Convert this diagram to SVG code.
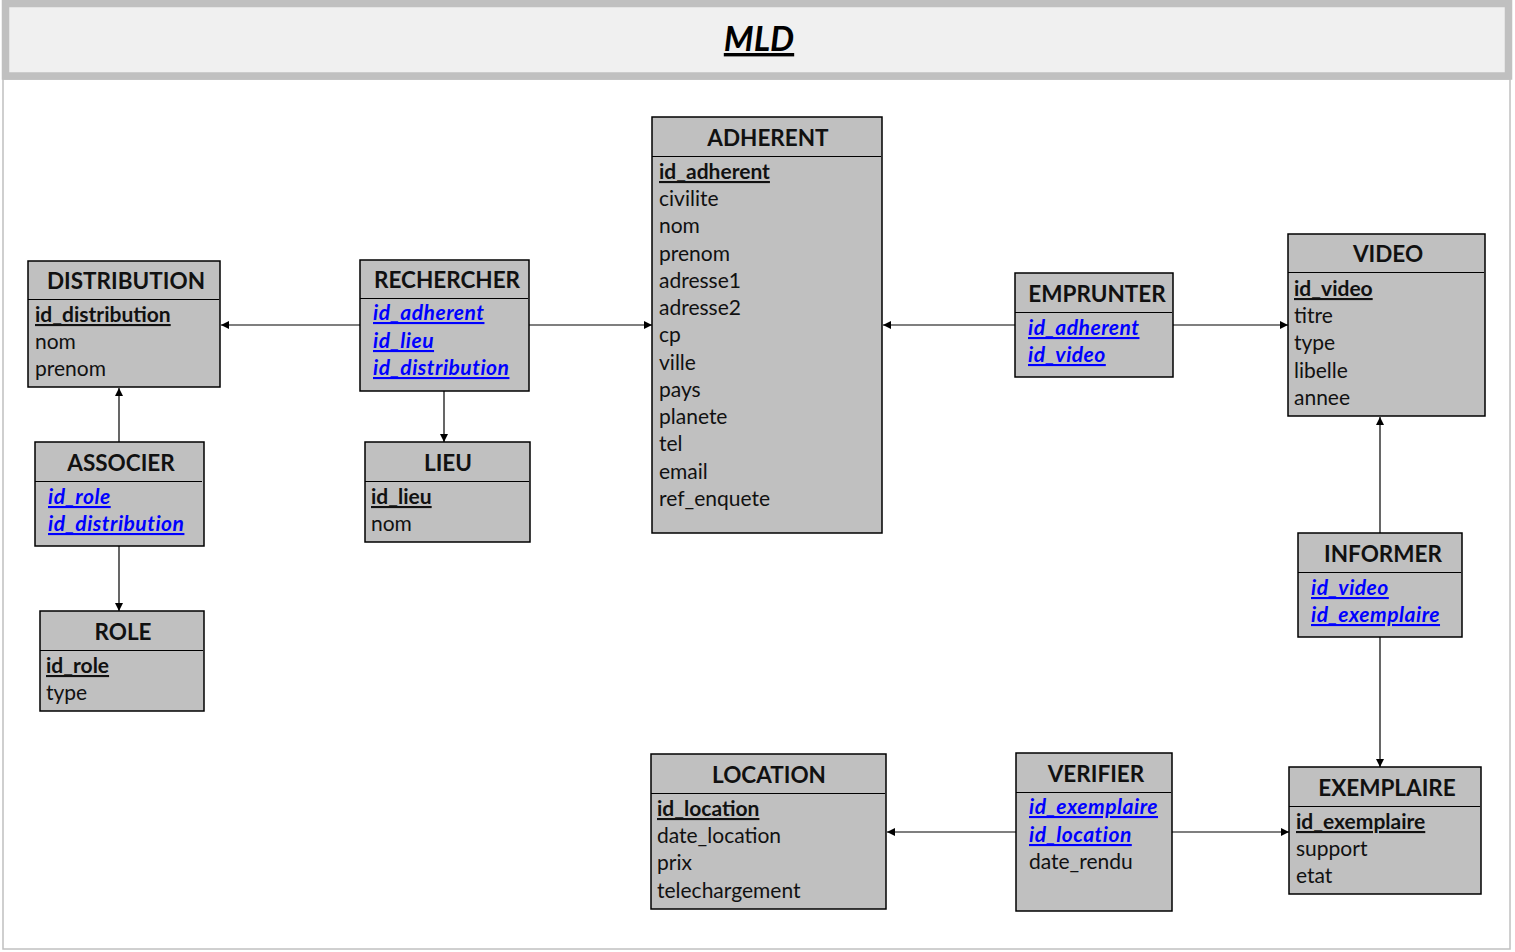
<svg xmlns="http://www.w3.org/2000/svg" width="1515" height="952" viewBox="0 0 1515 952">
<style>
.box{fill:#c0c0c0;stroke:#000;stroke-width:1.5}
.sep{stroke:#000;stroke-width:1}
.hd{font-family:Lato,"Liberation Sans",sans-serif;font-weight:bold;font-size:22.5px;fill:#111;text-anchor:middle}
.at{font-family:Lato,"Liberation Sans",sans-serif;font-size:21px;fill:#111}
.pk{font-family:Lato,"Liberation Sans",sans-serif;font-size:21px;font-weight:bold;fill:#111;text-decoration:underline}
.fk{font-family:Lato,"Liberation Sans",sans-serif;font-size:21px;font-weight:bold;font-style:italic;fill:#0000ff;text-decoration:underline;letter-spacing:0.5px}
.cn{stroke:#000;stroke-width:1.2;fill:none;marker-end:url(#ah)}
</style>
<defs>
<marker id="ah" viewBox="0 0 10 10" refX="10" refY="5" markerWidth="8" markerHeight="8" markerUnits="userSpaceOnUse" orient="auto">
<path d="M0,0 L10,5 L0,10 z" fill="#000"/>
</marker>
</defs>
<rect x="0" y="0" width="1515" height="952" fill="#fff"/>
<rect x="3" y="79" width="1507" height="870" fill="#fff" stroke="#c0c0c0" stroke-width="1.5"/>
<g id="title">
<rect x="5.5" y="3.5" width="1503" height="72.5" fill="#f0f0f0" stroke="#c0c0c0" stroke-width="7.5"/>
<text x="759" y="51" font-family="Lato,'Liberation Sans',sans-serif" font-size="34" font-weight="bold" font-style="italic" text-anchor="middle" fill="#000" text-decoration="underline">MLD</text>
</g>
<g id="connectors">
<line class="cn" x1="360" y1="325" x2="221" y2="325"/>
<line class="cn" x1="529" y1="325" x2="652" y2="325"/>
<line class="cn" x1="444" y1="391" x2="444" y2="442"/>
<line class="cn" x1="119" y1="442" x2="119" y2="388"/>
<line class="cn" x1="119" y1="546" x2="119" y2="611"/>
<line class="cn" x1="1015" y1="325" x2="883" y2="325"/>
<line class="cn" x1="1173" y1="325" x2="1288" y2="325"/>
<line class="cn" x1="1380" y1="533" x2="1380" y2="417"/>
<line class="cn" x1="1380" y1="637" x2="1380" y2="767"/>
<line class="cn" x1="1016" y1="832" x2="887" y2="832"/>
<line class="cn" x1="1172" y1="832" x2="1289" y2="832"/>
</g>
<g id="distribution">
<rect class="box" x="28" y="261" width="192" height="126"/>
<line class="sep" x1="28" y1="299.5" x2="219" y2="299.5"/>
<text class="hd" x="126" y="289">DISTRIBUTION</text>
<text class="pk" x="35" y="322">id_distribution</text>
<text class="at" x="35" y="349">nom</text>
<text class="at" x="35" y="376">prenom</text>
</g>
<g id="rechercher">
<rect class="box" x="360" y="260" width="169" height="131"/>
<line class="sep" x1="360" y1="298.5" x2="528" y2="298.5"/>
<text class="hd" x="447" y="288">RECHERCHER</text>
<text class="fk" x="373" y="320">id_adherent</text>
<text class="fk" x="373" y="348">id_lieu</text>
<text class="fk" x="373" y="375">id_distribution</text>
</g>
<g id="adherent">
<rect class="box" x="652" y="117" width="230" height="416"/>
<line class="sep" x1="652" y1="156.5" x2="881" y2="156.5"/>
<text class="hd" x="768" y="146">ADHERENT</text>
<text class="pk" x="659" y="179">id_adherent</text>
<text class="at" x="659" y="206">civilite</text>
<text class="at" x="659" y="233">nom</text>
<text class="at" x="659" y="261">prenom</text>
<text class="at" x="659" y="288">adresse1</text>
<text class="at" x="659" y="315">adresse2</text>
<text class="at" x="659" y="342">cp</text>
<text class="at" x="659" y="370">ville</text>
<text class="at" x="659" y="397">pays</text>
<text class="at" x="659" y="424">planete</text>
<text class="at" x="659" y="451">tel</text>
<text class="at" x="659" y="479">email</text>
<text class="at" x="659" y="506">ref_enquete</text>
</g>
<g id="emprunter">
<rect class="box" x="1015" y="273" width="158" height="104"/>
<line class="sep" x1="1015" y1="312.5" x2="1172" y2="312.5"/>
<text class="hd" x="1097" y="302">EMPRUNTER</text>
<text class="fk" x="1028" y="335">id_adherent</text>
<text class="fk" x="1028" y="362">id_video</text>
</g>
<g id="video">
<rect class="box" x="1288" y="234" width="197" height="182"/>
<line class="sep" x1="1288" y1="272.5" x2="1484" y2="272.5"/>
<text class="hd" x="1388" y="262">VIDEO</text>
<text class="pk" x="1294" y="296">id_video</text>
<text class="at" x="1294" y="323">titre</text>
<text class="at" x="1294" y="350">type</text>
<text class="at" x="1294" y="378">libelle</text>
<text class="at" x="1294" y="405">annee</text>
</g>
<g id="associer">
<rect class="box" x="35" y="442" width="169" height="104"/>
<line class="sep" x1="35" y1="481.5" x2="202" y2="481.5"/>
<text class="hd" x="121" y="471">ASSOCIER</text>
<text class="fk" x="48" y="504">id_role</text>
<text class="fk" x="48" y="531">id_distribution</text>
</g>
<g id="role">
<rect class="box" x="40" y="611" width="164" height="100"/>
<line class="sep" x1="40" y1="650.5" x2="203" y2="650.5"/>
<text class="hd" x="123" y="640">ROLE</text>
<text class="pk" x="46" y="673">id_role</text>
<text class="at" x="46" y="700">type</text>
</g>
<g id="lieu">
<rect class="box" x="365" y="442" width="165" height="100"/>
<line class="sep" x1="365" y1="481.5" x2="529" y2="481.5"/>
<text class="hd" x="448" y="471">LIEU</text>
<text class="pk" x="371" y="504">id_lieu</text>
<text class="at" x="371" y="531">nom</text>
</g>
<g id="informer">
<rect class="box" x="1298" y="533" width="164" height="104"/>
<line class="sep" x1="1298" y1="572.5" x2="1461" y2="572.5"/>
<text class="hd" x="1383" y="562">INFORMER</text>
<text class="fk" x="1311" y="595">id_video</text>
<text class="fk" x="1311" y="622">id_exemplaire</text>
</g>
<g id="location">
<rect class="box" x="651" y="754" width="235" height="155"/>
<line class="sep" x1="651" y1="793.5" x2="885" y2="793.5"/>
<text class="hd" x="769" y="783">LOCATION</text>
<text class="pk" x="657" y="816">id_location</text>
<text class="at" x="657" y="843">date_location</text>
<text class="at" x="657" y="870">prix</text>
<text class="at" x="657" y="898">telechargement</text>
</g>
<g id="verifier">
<rect class="box" x="1016" y="753" width="156" height="158"/>
<line class="sep" x1="1016" y1="792.5" x2="1171" y2="792.5"/>
<text class="hd" x="1096" y="782">VERIFIER</text>
<text class="fk" x="1029" y="814">id_exemplaire</text>
<text class="fk" x="1029" y="842">id_location</text>
<text class="at" x="1029" y="869">date_rendu</text>
</g>
<g id="exemplaire">
<rect class="box" x="1289" y="767" width="192" height="127"/>
<line class="sep" x1="1289" y1="806.5" x2="1480" y2="806.5"/>
<text class="hd" x="1387" y="796">EXEMPLAIRE</text>
<text class="pk" x="1296" y="829">id_exemplaire</text>
<text class="at" x="1296" y="856">support</text>
<text class="at" x="1296" y="883">etat</text>
</g>
</svg>
